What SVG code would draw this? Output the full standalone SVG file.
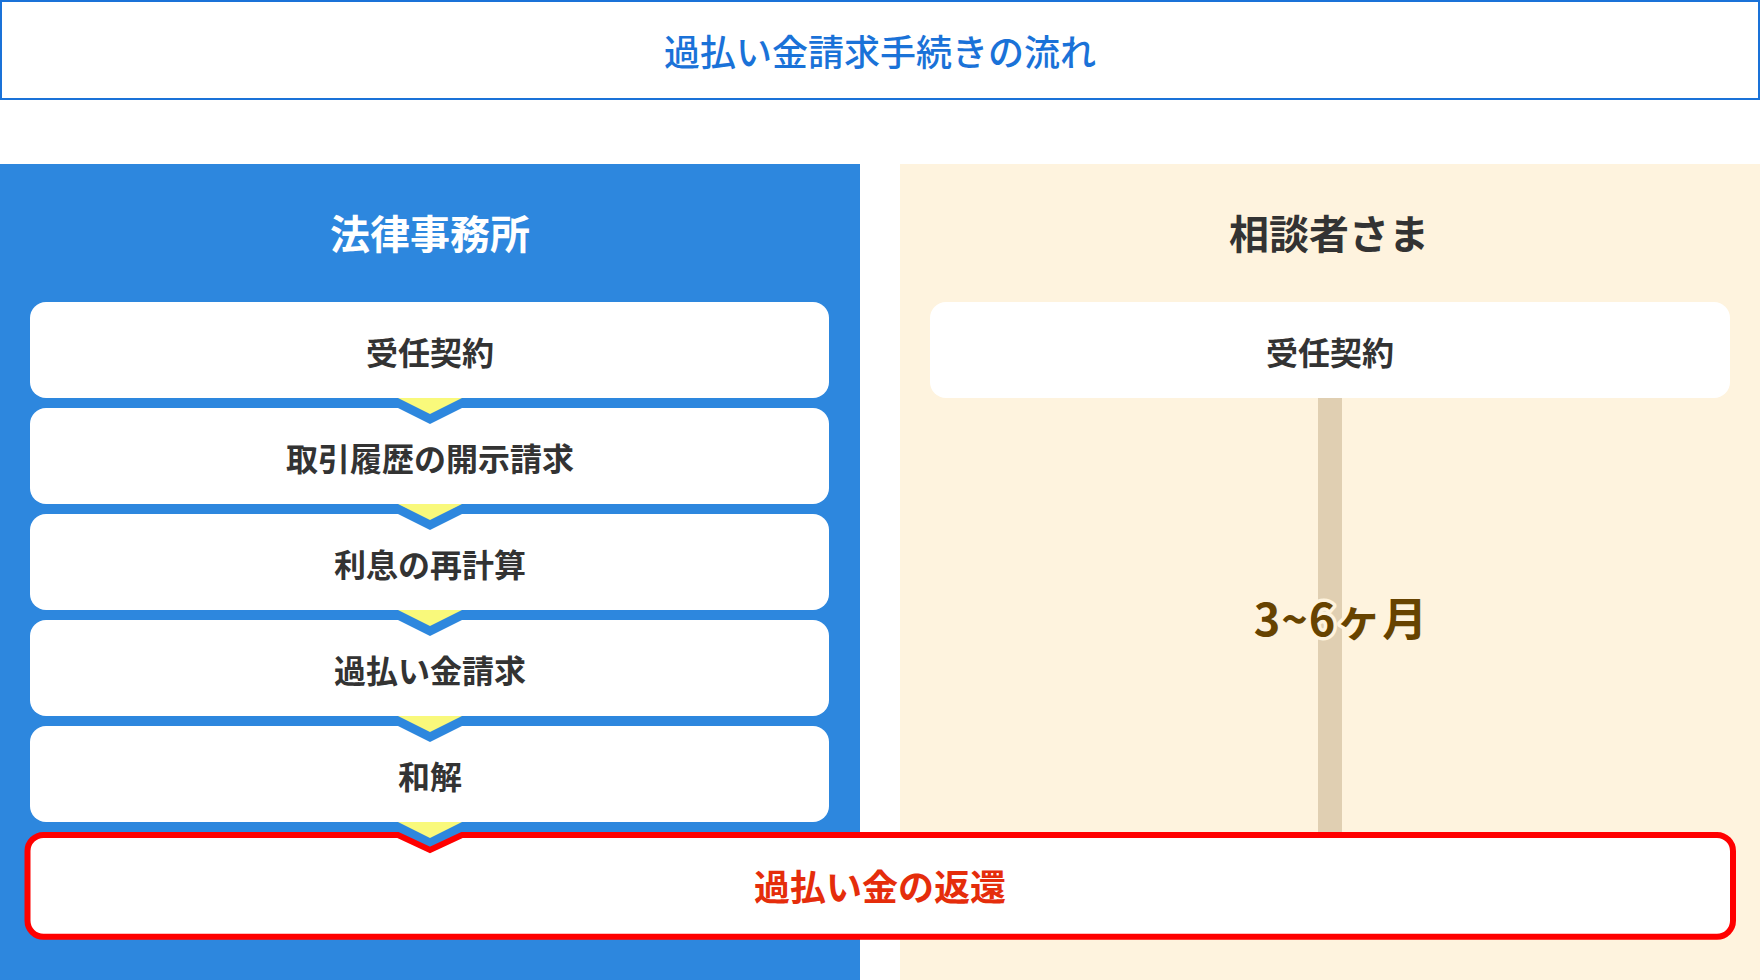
<svg xmlns="http://www.w3.org/2000/svg" width="1760" height="980" viewBox="0 0 1760 980">
<style>
.jp{font-family:"Noto Sans CJK JP","Noto Sans CJK SC",sans-serif;}
.step{fill:#ffffff;}
.stxt{font-size:32px;font-weight:700;fill:#333333;text-anchor:middle;}
.hdr{font-size:40px;font-weight:700;text-anchor:middle;}
.tri{fill:#f9f97b;}
.chev{fill:#2d87de;}
</style>
<rect x="0" y="0" width="1760" height="980" fill="#ffffff"/>
<g id="title">
<rect x="1" y="1" width="1758" height="98" fill="#ffffff" stroke="#1a72d8" stroke-width="2"/>
<text class="jp" x="880" y="66" font-size="36" font-weight="500" fill="#1a72d8" text-anchor="middle">過払い金請求手続きの流れ</text>
</g>
<g id="lane-office">
<rect x="0" y="164" width="860" height="816" fill="#2d87de"/>
<text class="jp hdr" x="430" y="249" fill="#ffffff">法律事務所</text>
</g>
<g id="lane-client">
<rect x="900" y="164" width="860" height="816" fill="#fef3de"/>
<text class="jp hdr" x="1329" y="249" fill="#333333">相談者さま</text>
</g>
<g id="duration-bar">
<rect x="1318" y="396" width="24" height="444" fill="#e0cfb2"/>
</g>
<g id="step1">
<rect class="step" x="30" y="302" width="799" height="96" rx="16"/>
<text class="jp stxt" x="430" y="364.5">受任契約</text>
</g>
<g id="step2">
<rect class="step" x="30" y="408" width="799" height="96" rx="16"/>
<text class="jp stxt" x="430" y="470.5">取引履歴の開示請求</text>
</g>
<g id="step3">
<rect class="step" x="30" y="514" width="799" height="96" rx="16"/>
<text class="jp stxt" x="430" y="576.5">利息の再計算</text>
</g>
<g id="step4">
<rect class="step" x="30" y="620" width="799" height="96" rx="16"/>
<text class="jp stxt" x="430" y="682.5">過払い金請求</text>
</g>
<g id="step5">
<rect class="step" x="30" y="726" width="799" height="96" rx="16"/>
<text class="jp stxt" x="430" y="788.5">和解</text>
</g>
<g id="client-step1">
<rect class="step" x="930" y="302" width="800" height="96" rx="16"/>
<text class="jp stxt" x="1330" y="364.5">受任契約</text>
</g>
<g id="duration-label">
<text class="jp" x="1341" y="635.5" font-size="45" font-weight="700" fill="#674300" text-anchor="middle" letter-spacing="1" stroke="#fef3de" stroke-width="7" stroke-linejoin="round" paint-order="stroke">3~6ヶ月</text>
</g>
<g id="refund">
<path d="M43.5,835 H398 L430,850 L462,835 H1717 A16,16 0 0 1 1733,851 V920.7 A16,16 0 0 1 1717,936.7 H43.5 A16,16 0 0 1 27.5,920.7 V851 A16,16 0 0 1 43.5,835 Z" fill="#ffffff" stroke="#ff0000" stroke-width="6"/>
<text class="jp" x="880" y="901" font-size="36" font-weight="700" fill="#e52d0b" text-anchor="middle">過払い金の返還</text>
</g>
<g id="connectors">
<polygon class="chev" points="398,408 462,408 430,424"/>
<polygon class="tri" points="398,398 462,398 430,414"/>
<polygon class="chev" points="398,514 462,514 430,530"/>
<polygon class="tri" points="398,504 462,504 430,520"/>
<polygon class="chev" points="398,620 462,620 430,636"/>
<polygon class="tri" points="398,610 462,610 430,626"/>
<polygon class="chev" points="398,726 462,726 430,742"/>
<polygon class="tri" points="398,716 462,716 430,732"/>
<polygon class="tri" points="398,822 462,822 430,838"/>
</g>
</svg>
